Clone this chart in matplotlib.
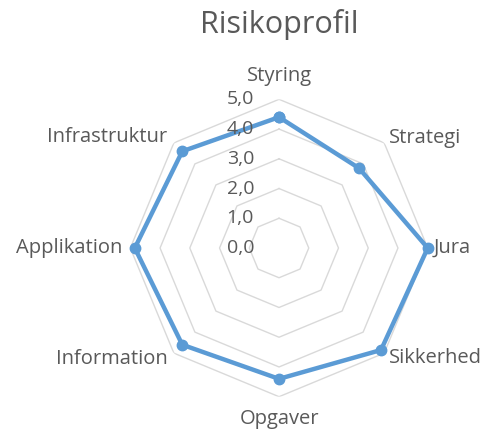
import numpy as np
import matplotlib
matplotlib.use("Agg")
import matplotlib.pyplot as plt

plt.rcParams['font.family'] = ['Open Sans', 'DejaVu Sans']

# data
categories = ['Styring', 'Strategi', 'Jura', 'Sikkerhed',
              'Opgaver', 'Information', 'Applikation', 'Infrastruktur']
values = [4.4, 3.8, 5.0, 4.85, 4.4, 4.6, 4.85, 4.6]
ring_values = [0, 1, 2, 3, 4, 5]
ring_labels = ['0,0', '1,0', '2,0', '3,0', '4,0', '5,0']

TEXT = '#595959'
GRID = '#D9D9D9'
BLUE = '#5B9BD5'

n = len(categories)
angles = np.linspace(0, 2 * np.pi, n, endpoint=False)
closed_ang = np.append(angles, angles[0])

fig = plt.figure(figsize=(4.85, 4.32), dpi=100)
ax = fig.add_axes([0.2687, 0.0817, 0.6132, 0.6884], projection='polar')
ax.set_theta_zero_location('N')
ax.set_theta_direction(-1)
ax.set_ylim(0, 5)
ax.grid(False)
ax.spines['polar'].set_visible(False)
ax.set_xticks([])
ax.set_yticks([])
ax.patch.set_alpha(0)

# octagon rings
for r in ring_values[1:]:
    ax.plot(closed_ang, [r] * (n + 1), color=GRID, lw=1.0, zorder=1)

# series
vals = values + values[:1]
ax.plot(closed_ang, vals, color=BLUE, lw=3.2, marker='o', markersize=7.5,
        zorder=3, clip_on=False)

# value axis labels
for r, lab in zip(ring_values, ring_labels):
    ax.annotate(lab, xy=(0, r), xytext=(-25, 0), textcoords='offset pixels',
                ha='right', va='center', fontsize=14, color=TEXT,
                annotation_clip=False)

# category labels
label_pos = [
    (5.78, 'center', 'center'),
    (5.25, 'left', 'center'),
    (5.20, 'left', 'center'),
    (5.23, 'left', 'center'),
    (5.75, 'center', 'center'),
    (5.28, 'right', 'center'),
    (5.28, 'right', 'center'),
    (5.30, 'right', 'center'),
]
for ang, cat, (r, ha, va) in zip(angles, categories, label_pos):
    ax.text(ang, r, cat, ha=ha, va=va, fontsize=14.5, color=TEXT, clip_on=False)

fig.text(279 / 485, 1 - 24 / 432, 'Risikoprofil', ha='center', va='center',
         fontsize=22, color=TEXT)

fig.savefig('out.png', dpi=100)
